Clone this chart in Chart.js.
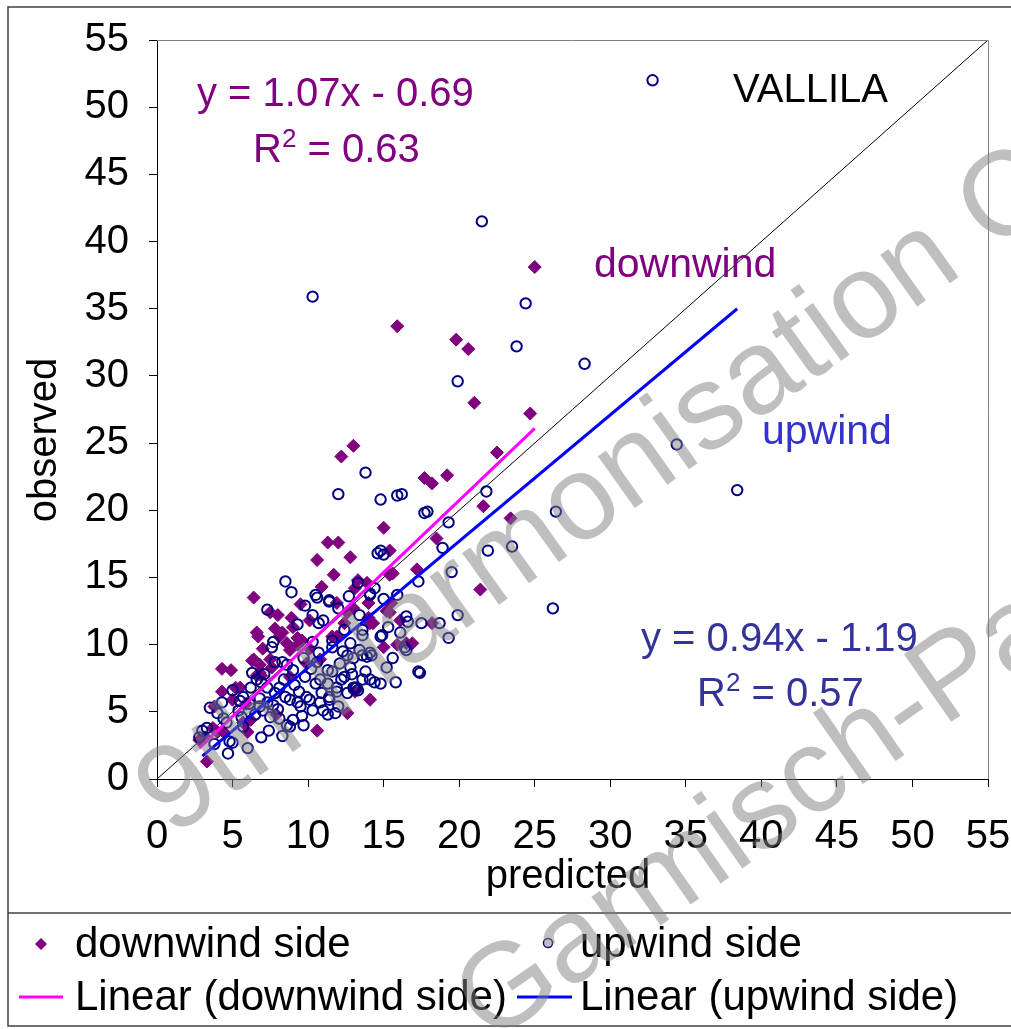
<!DOCTYPE html>
<html>
<head>
<meta charset="utf-8">
<script src="https://cdn.jsdelivr.net/npm/chart.js@4.4.0/dist/chart.umd.min.js"></script>
<style>
html,body{margin:0;padding:0;background:#fff;}
#wrap{position:relative;width:1011px;height:1029px;}
canvas{display:block;}
</style>
</head>
<body>
<div id="wrap"><canvas id="c" width="1011" height="1029"></canvas></div>
<script>
// ---- data ----
const xTickValues = [0, 5, 10, 15, 20, 25, 30, 35, 40, 45, 50, 55];
const yTickValues = [0, 5, 10, 15, 20, 25, 30, 35, 40, 45, 50, 55];

// downwind side (filled diamonds)
const downX = [25.0,15.9,19.8,20.6,21.0,24.7,22.5,13.0,12.2,17.7,18.2,19.2,21.6,23.4,21.4,15.0,15.4,18.5,17.2,15.6,
  13.9,14.0,15.5,15.4,14.3,18.2,16.1,15.9,16.9,11.3,12.0,12.8,10.6,6.4,8.0,8.9,7.8,8.3,8.1,6.6,
  6.7,9.3,10.1,13.3,12.4,14.1,4.3,4.9,4.3,5.2,6.3,6.8,3.3,2.8,3.7,4.0,14.1,12.6,10.6,9.0,
  8.6,8.8,6.4,6.8,7.5,7.6,6.9,5.0,3.8,4.4,3.2,8.8,13.1,5.7,6.0,7.9,11.9,10.8,11.9,9.6,
  10.1,13.0,12.6,15.2,14.0,15.0,16.5,7.5,9.3,13.1,15.4,11.6,6.6,5.5,6.2,9.5,10.9,11.7,7.0,9.9,
  5.9];
const downY = [38.1,33.7,32.7,32.0,28.0,27.2,24.3,24.8,24.0,22.4,22.0,22.6,20.3,19.4,14.1,18.7,17.0,17.9,15.6,15.3,
  14.6,13.1,13.1,12.4,11.6,11.6,11.8,10.0,10.1,17.6,17.6,16.5,16.3,13.5,12.2,12.0,11.2,10.9,10.6,10.9,
  10.6,10.5,11.8,14.8,11.6,11.6,8.2,8.1,6.5,6.8,8.8,7.9,1.3,2.9,3.8,3.5,5.9,4.9,3.6,11.3,
  10.1,9.6,8.9,8.5,8.9,8.3,7.7,5.9,5.4,3.5,3.1,7.6,6.5,4.2,3.5,4.8,13.1,8.9,10.6,10.3,
  9.7,12.7,12.4,12.5,12.0,9.8,10.1,12.4,10.0,14.2,15.2,10.6,7.7,6.8,4.4,13.0,14.3,15.2,9.7,8.6,
  5.6];

// upwind side (open circles)
const upX = [32.8,21.5,10.3,24.4,23.8,28.3,19.9,34.4,38.4,26.4,26.2,21.8,23.5,21.9,13.8,12.0,15.9,16.2,14.8,17.7,
  17.9,19.3,18.9,19.5,19.9,19.3,14.8,15.0,17.3,15.9,15.0,14.1,14.4,18.7,17.5,16.5,16.6,15.3,14.9,16.4,
  16.5,14.1,13.6,14.6,13.3,14.1,8.5,7.3,10.5,10.6,11.4,12.0,10.3,10.7,9.3,13.6,12.4,11.6,10.3,7.7,
  7.6,7.8,8.3,8.6,9.7,10.7,11.6,12.3,12.6,13.0,13.6,12.8,13.4,13.9,14.2,14.8,15.2,17.3,17.4,14.1,
  14.4,14.8,13.1,13.3,11.9,11.4,12.0,11.8,10.8,11.0,10.3,9.7,8.8,8.6,11.3,11.6,12.8,6.6,6.9,6.2,
  5.0,5.7,7.3,7.8,8.1,8.5,8.8,7.3,7.7,6.8,7.0,6.5,3.5,4.3,5.4,4.4,4.6,3.3,2.8,4.8,
  5.0,6.0,4.7,6.9,8.1,9.0,9.3,9.5,9.9,10.1,10.5,10.8,11.3,11.4,11.9,12.2,12.4,13.0,13.2,13.6,
  11.3,12.6,11.4,13.4,6.8,5.7,3.0,5.6,6.1,7.5,8.0,8.4,9.1,9.4,9.8,10.2,10.6,9.0,7.1,6.3,
  5.5,4.0,3.8,9.6,10.9,8.3,7.4,12.1,12.9,13.8,15.6,15.8,16.1,11.0,9.8,8.9,12.7];
const upY = [52.0,41.5,35.9,35.4,32.2,30.9,29.6,24.9,21.5,19.9,12.7,21.4,17.3,17.0,22.8,21.2,21.1,21.2,20.8,19.8,
  19.9,19.1,17.2,15.4,12.2,10.5,17.0,16.7,14.7,13.7,13.4,13.8,14.2,11.6,11.6,12.1,11.7,11.3,10.7,9.8,
  9.6,9.4,10.7,16.8,14.6,13.7,14.7,12.6,13.7,13.5,13.3,12.7,12.2,11.6,11.5,11.1,11.1,10.3,10.2,10.2,
  9.8,8.7,8.7,8.5,9.0,9.4,9.8,9.5,9.2,9.0,9.2,10.1,9.6,9.1,9.2,10.6,8.3,8.0,7.9,7.4,
  7.2,7.1,6.8,6.6,6.5,5.9,5.4,4.9,5.7,5.1,5.1,4.0,3.9,4.0,8.1,8.0,8.3,7.4,7.2,6.8,
  6.6,6.1,6.8,6.4,6.8,6.1,5.9,5.7,5.5,5.4,5.1,4.8,5.3,5.7,5.1,4.5,4.2,3.8,3.1,2.8,
  2.7,2.3,1.9,3.1,4.5,4.4,5.7,5.4,6.1,5.9,7.1,7.4,7.1,6.1,6.8,7.4,7.6,6.8,6.8,7.4,
  4.8,6.4,13.2,12.2,6.0,3.9,3.6,4.6,5.6,4.6,5.2,7.4,7.0,6.5,7.6,8.2,8.7,8.1,7.8,7.9,
  5.8,4.9,2.6,4.7,6.4,3.2,3.6,8.6,7.8,8.0,9.0,7.2,10.9,11.8,12.9,13.9,13.6];

// trend lines (end points) and 1:1 line
const downFitX = [2.8, 25.0];
const downFitY = [2.3, 26.1];
const upFitX = [3.0, 38.4];
const upFitY = [1.7, 35.0];
const diagX = [0, 55];
const diagY = [0, 55];

// texts
const downEq = 'y = 1.07x - 0.69';
const downR2 = '0.63';
const upEq = 'y = 0.94x - 1.19';
const upR2 = '0.57';
const siteName = 'VALLILA';
const legendLabels = ['downwind side', 'upwind side', 'Linear (downwind side)', 'Linear (upwind side)'];
const watermark1 = '9th Harmonisation Conference';
const watermark2 = 'Garmisch-Partenkirchen';

// ---- build ----
const FONT = '"Liberation Sans", Arial, sans-serif';
const pts = (xs, ys) => xs.map((x, i) => ({x: x, y: ys[i]}));

function drawR2(ctx, x, y, val, color) {
  ctx.fillStyle = color;
  ctx.textAlign = 'left';
  ctx.textBaseline = 'alphabetic';
  ctx.font = '40px ' + FONT;
  ctx.fillText('R', x, y);
  let w = ctx.measureText('R').width;
  ctx.font = '26px ' + FONT;
  ctx.fillText('2', x + w, y - 15);
  w += ctx.measureText('2').width;
  ctx.font = '40px ' + FONT;
  ctx.fillText(' = ' + val, x + w, y);
}

const deco = {
  id: 'deco',
  beforeDraw(chart) {
    const ctx = chart.ctx;
    ctx.save();
    ctx.fillStyle = '#fff';
    ctx.fillRect(0, 0, chart.width, chart.height);
    ctx.restore();
  },
  afterDraw(chart) {
    const ctx = chart.ctx;
    const a = chart.chartArea;
    ctx.save();
    // plot area top / right border
    ctx.strokeStyle = '#808080';
    ctx.lineWidth = 1;
    ctx.beginPath();
    ctx.moveTo(a.left, a.top + 0.5);
    ctx.lineTo(a.right + 0.5, a.top + 0.5);
    ctx.lineTo(a.right + 0.5, a.bottom);
    ctx.stroke();

    // outer frame and legend separator
    ctx.strokeStyle = '#404040';
    ctx.lineWidth = 1.5;
    ctx.strokeRect(8, 7, 1020, 1019);
    ctx.beginPath();
    ctx.moveTo(8, 913);
    ctx.lineTo(1011, 913);
    ctx.stroke();

    // axis titles
    ctx.fillStyle = '#000';
    ctx.font = '40px ' + FONT;
    ctx.textAlign = 'center';
    ctx.textBaseline = 'middle';
    ctx.fillText('predicted', 568, 877);
    ctx.save();
    ctx.translate(45, 440);
    ctx.rotate(-Math.PI / 2);
    ctx.fillText('observed', 0, 0);
    ctx.restore();

    // annotations
    ctx.textAlign = 'left';
    ctx.textBaseline = 'alphabetic';
    ctx.font = '40px ' + FONT;
    ctx.fillStyle = '#800080';
    ctx.fillText(downEq, 197, 106);
    drawR2(ctx, 253, 162, downR2, '#800080');
    ctx.fillStyle = '#800080';
    ctx.font = '41px ' + FONT;
    ctx.fillText('downwind', 594, 277);
    ctx.fillStyle = '#000';
    ctx.font = '40px ' + FONT;
    ctx.fillText(siteName, 733, 102);
    ctx.fillStyle = '#3333cc';
    ctx.font = '41px ' + FONT;
    ctx.fillText('upwind', 762, 444);
    ctx.fillStyle = '#333399';
    ctx.font = '40px ' + FONT;
    ctx.fillText(upEq, 641, 651);
    drawR2(ctx, 697, 706, upR2, '#333399');

    // legend
    ctx.fillStyle = '#800080';
    ctx.beginPath();
    ctx.moveTo(41, 938); ctx.lineTo(47, 944); ctx.lineTo(41, 950); ctx.lineTo(35, 944); ctx.closePath();
    ctx.fill();
    ctx.strokeStyle = '#000080';
    ctx.lineWidth = 1.5;
    ctx.beginPath();
    ctx.arc(548, 943, 4.5, 0, Math.PI * 2);
    ctx.stroke();
    ctx.strokeStyle = '#ff00ff';
    ctx.lineWidth = 3;
    ctx.beginPath(); ctx.moveTo(19, 997); ctx.lineTo(63, 997); ctx.stroke();
    ctx.strokeStyle = '#0000ff';
    ctx.beginPath(); ctx.moveTo(517, 997); ctx.lineTo(572, 997); ctx.stroke();
    ctx.fillStyle = '#000';
    ctx.font = '42px ' + FONT;
    ctx.textBaseline = 'middle';
    ctx.fillText(legendLabels[0], 75, 945);
    ctx.fillText(legendLabels[1], 580, 945);
    ctx.fillText(legendLabels[2], 75, 998);
    ctx.fillText(legendLabels[3], 580, 998);

    // watermark
    ctx.fillStyle = 'rgba(128,128,128,0.5)';
    ctx.font = '120px ' + FONT;
    ctx.textBaseline = 'alphabetic';
    ctx.save();
    ctx.translate(172, 838);
    ctx.rotate(-35.5 * Math.PI / 180);
    ctx.fillText(watermark1, 0, 0);
    ctx.restore();
    ctx.save();
    ctx.translate(490, 1045);
    ctx.rotate(-35 * Math.PI / 180);
    ctx.fillText(watermark2, 0, 0);
    ctx.restore();
    ctx.restore();
  }
};

const axisCommon = (vals) => ({
  type: 'linear',
  min: 0,
  max: 55,
  afterBuildTicks: (s) => { s.ticks = vals.map(v => ({value: v})); },
  ticks: {
    font: {size: 40, family: FONT},
    color: '#000',
    autoSkip: false,
    maxRotation: 0,
    minRotation: 0,
    padding: 20
  },
  grid: {drawOnChartArea: false, drawTicks: true, tickLength: 8, color: '#000', tickColor: '#000', tickWidth: 1},
  border: {display: true, color: '#000', width: 1},
  title: {display: false}
});

const xAxis = axisCommon(xTickValues);
xAxis.ticks.padding = 26;
xAxis.afterFit = (s) => { s.height = 250; s.paddingLeft = 0; s.paddingRight = 0; };
const yAxis = axisCommon(yTickValues);
yAxis.afterFit = (s) => { s.width = 157; s.paddingTop = 0; s.paddingBottom = 0; };

new Chart(document.getElementById('c'), {
  type: 'scatter',
  data: {
    datasets: [
      {
        label: 'Linear (upwind side)', data: pts(upFitX, upFitY), showLine: true,
        borderColor: '#0000ff', borderWidth: 3, pointRadius: 0, fill: false, order: 1
      },
      {
        label: 'Linear (downwind side)', data: pts(downFitX, downFitY), showLine: true,
        borderColor: '#ff00ff', borderWidth: 3, pointRadius: 0, fill: false, order: 2
      },
      {
        label: 'upwind side', data: pts(upX, upY), pointStyle: 'circle', pointRadius: 5.2,
        borderColor: '#000080', backgroundColor: 'rgba(0,0,0,0)', borderWidth: 2, order: 3
      },
      {
        label: 'downwind side', data: pts(downX, downY), pointStyle: 'rectRot', pointRadius: 6.5,
        borderColor: '#800080', backgroundColor: '#800080', borderWidth: 1, order: 4
      },
      {
        label: '1:1', data: pts(diagX, diagY), showLine: true,
        borderColor: '#000', borderWidth: 1, pointRadius: 0, fill: false, order: 5
      }
    ]
  },
  options: {
    responsive: false,
    devicePixelRatio: 1,
    animation: false,
    events: [],
    layout: {padding: {left: 0, top: 40, right: 23, bottom: 0}},
    plugins: {legend: {display: false}, tooltip: {enabled: false}, title: {display: false}},
    scales: {x: xAxis, y: yAxis}
  },
  plugins: [deco]
});
</script>
</body>
</html>
